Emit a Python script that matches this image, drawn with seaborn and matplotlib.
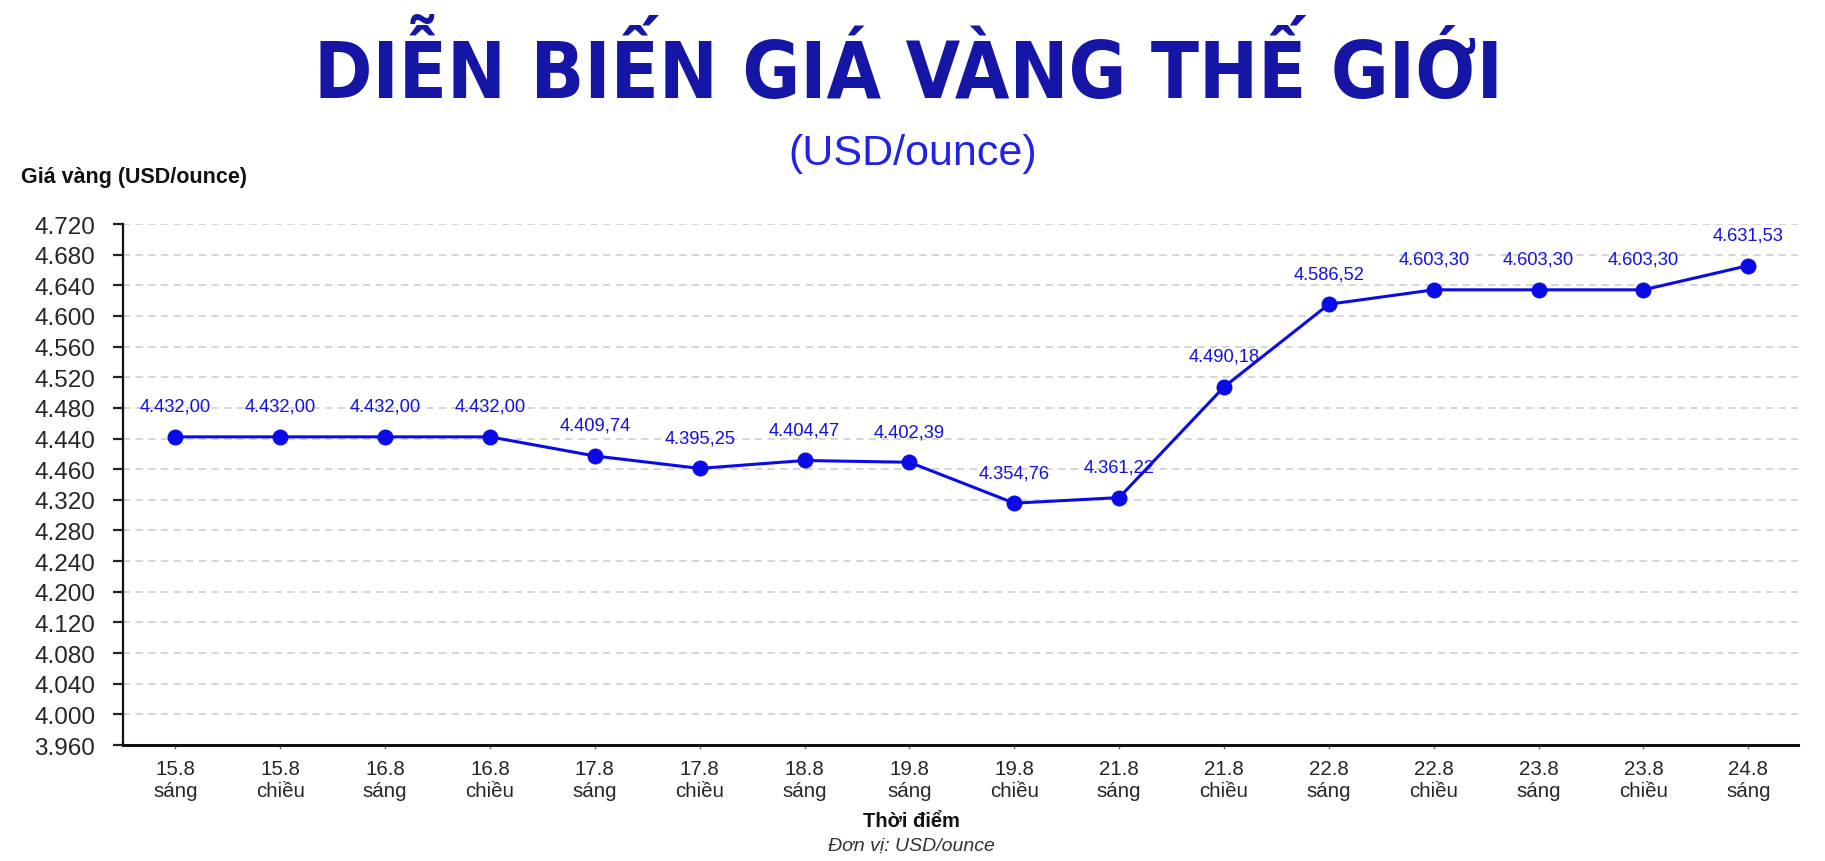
import matplotlib
matplotlib.use("Agg")
import numpy as np
import pandas as pd
import seaborn as sns
import matplotlib.pyplot as plt
from matplotlib import font_manager as fm

# data
times = ["15.8\nsáng", "15.8\nchiều", "16.8\nsáng", "16.8\nchiều", "17.8\nsáng",
         "17.8\nchiều", "18.8\nsáng", "19.8\nsáng", "19.8\nchiều", "21.8\nsáng",
         "21.8\nchiều", "22.8\nsáng", "22.8\nchiều", "23.8\nsáng", "23.8\nchiều",
         "24.8\nsáng"]
prices = [4432.00, 4432.00, 4432.00, 4432.00, 4409.74, 4395.25, 4404.47, 4402.39,
          4354.76, 4361.22, 4490.18, 4586.52, 4603.30, 4603.30, 4603.30, 4631.53]
# y tick labels as printed on the original (top to bottom)
ytick_labels = ["4.720", "4.680", "4.640", "4.600", "4.560", "4.520", "4.480", "4.440",
                "4.460", "4.320", "4.280", "4.240", "4.200", "4.120", "4.080", "4.040",
                "4.000", "3.960"]


def vn_number(v):
    s = f"{v:,.2f}"
    return s.replace(",", "#").replace(".", ",").replace("#", ".")


sns.set_theme(style="white")
plt.rcParams["font.family"] = ["Liberation Sans", "DejaVu Sans"]

W, H = 1825, 862
fig = plt.figure(figsize=(W / 100, H / 100), dpi=100)
fig.patch.set_facecolor("white")
ax = fig.add_axes([123 / W, 1 - 746 / H, (1797.6 - 123) / W, (746 - 225) / H])

df = pd.DataFrame({"x": np.arange(len(prices)), "price": prices})
sns.lineplot(data=df, x="x", y="price", ax=ax, color="#0b0be8", lw=2.2,
             marker="o", markersize=11.5, markeredgewidth=0, zorder=3)

ymin, ymax = 4073, 4680
ax.set_ylim(ymin, ymax)
ax.set_xlim(-0.5, 15.47)
ypos = np.linspace(ymin, ymax, len(ytick_labels))
ax.set_yticks(ypos)
ax.set_yticklabels(ytick_labels[::-1], fontsize=17.5)
ax.set_xticks(df["x"])
ax.set_xticklabels(times, fontsize=14.8, linespacing=1.2)
ax.set_xlabel("")
ax.set_ylabel("")

ax.tick_params(axis="y", direction="out", length=7, width=1.6, color="#222222", pad=13, left=True)
ax.tick_params(axis="x", direction="out", length=3, width=1.0, color="#777777", pad=7, bottom=True)
ax.yaxis.grid(True, linestyle=(0, (4, 3)), color="#d2d2d2", lw=1.3)
ax.xaxis.grid(False)
sns.despine(ax=ax)
ax.spines["left"].set_color("#111111")
ax.spines["left"].set_linewidth(1.6)
ax.spines["bottom"].set_color("#111111")
ax.spines["bottom"].set_linewidth(2.2)

for i, v in enumerate(prices):
    ax.annotate(vn_number(v), (i, v), xytext=(0, 22), textcoords="offset points",
                ha="center", va="center", fontsize=13.2, color="#1212e0")

# titles: prefer a condensed bold face if one is installed
cond = [f.name for f in fm.fontManager.ttflist
        if f.stretch in ("condensed", "semi-condensed", "extra-condensed")
        or "Condensed" in f.name or "Narrow" in f.name]
title_family = [cond[0]] if cond else ["Roboto"]
title = fig.text(0.4975, 1 - 98 / H, "DIỄN BIẾN GIÁ VÀNG THẾ GIỚI", ha="center",
                 va="baseline", fontsize=60, fontweight="bold", fontstretch="condensed",
                 color="#1616a6", family=title_family + ["DejaVu Sans"])
fig.canvas.draw()
tw = title.get_window_extent().width
title.set_fontsize(60 * 1188 / tw)

fig.text(0.5, 1 - 165 / H, "(USD/ounce)", ha="center", va="baseline",
         fontsize=31, color="#2222e6")
fig.text(21 / W, 1 - 183 / H, "Giá vàng (USD/ounce)", ha="left", va="baseline",
         fontsize=15.5, fontweight="bold", color="#111111")
fig.text(911 / W, 1 - 827 / H, "Thời điểm", ha="center", va="baseline",
         fontsize=14.5, fontweight="bold", color="#111111")
fig.text(911 / W, 1 - 851 / H, "Đơn vị: USD/ounce", ha="center", va="baseline",
         fontsize=14, fontstyle="italic", color="#333333")

fig.savefig("out.png", dpi=100, facecolor="white")
